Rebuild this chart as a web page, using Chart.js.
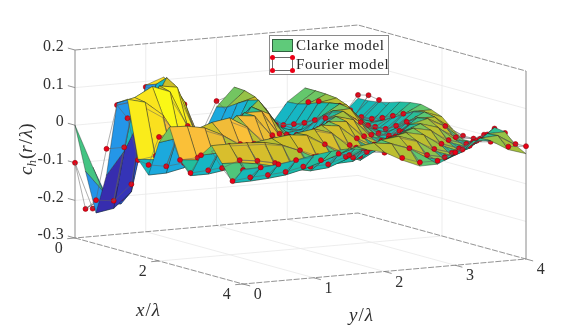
<!DOCTYPE html>
<html>
<head>
<meta charset="utf-8">
<style>
  html, body { margin: 0; padding: 0; background: #fff; }
  canvas { display: block; }
</style>
<script src="https://cdn.jsdelivr.net/npm/chart.js@4"></script>
</head>
<body>
<canvas id="surf" width="581" height="326"></canvas>
<script>
// grid of the two surfaces, in units of lambda
const gridX = [0, .25, .5, .75, 1, 1.25, 1.5, 1.75, 2, 2.25, 2.5, 2.75, 3, 3.25, 3.5, 3.75, 4];
const gridY = [0, .25, .5, .75, 1, 1.25, 1.5, 1.75, 2, 2.25, 2.5, 2.75, 3, 3.25, 3.5, 3.75, 4];

const xTicks = [0, 2, 4];
const yTicks = [0, 1, 2, 3, 4];
const zTicks = [-.3, -.2, -.1, 0, .1, .2];
const zTickLabels = ['-0.3', '-0.2', '-0.1', '0', '0.1', '0.2'];

// rows are x, columns are y
const clarkeZ = [
  [0, -.115, -.218, -.11, .09, .107, -.045, -.079, .015, .064, -.016, -.05, .012, .045, .005, -.039, .005],
  [-.115, -.173, -.21, -.05, .10, .095, -.05, -.078, .022, .062, -.02, -.05, .014, .045, .003, -.038, .006],
  [-.218, -.21, -.17, .04, .125, .057, -.066, -.068, .04, .053, -.028, -.043, .022, .044, -.004, -.035, .01],
  [-.11, -.05, .04, .115, .107, -.018, -.075, -.037, .056, .03, -.041, -.035, .033, .041, -.015, -.03, .017],
  [.09, .10, .125, .107, .008, -.07, -.074, .022, .064, -.002, -.047, -.012, .04, .03, -.026, -.019, .026],
  [.107, .095, .057, -.018, -.07, -.078, -.01, .058, .035, -.034, -.043, .017, .045, .01, -.035, -.004, .032],
  [-.045, -.05, -.066, -.075, -.074, -.01, .054, .053, -.016, -.047, -.015, .038, .04, -.015, -.031, .012, .035],
  [-.079, -.078, -.068, -.037, .022, .058, .053, -.007, -.044, -.035, .025, .045, .011, -.032, -.013, .028, .028],
  [.015, .022, .04, .056, .064, .035, -.016, -.044, -.04, .014, .043, .03, -.021, -.03, .01, .034, .017],
  [.064, .062, .053, .03, -.002, -.034, -.047, -.035, .014, .041, .037, -.012, -.039, -.004, .03, .028, -.008],
  [-.016, -.02, -.028, -.041, -.047, -.043, -.015, .025, .043, .037, -.004, -.035, -.014, .024, .036, .011, -.028],
  [-.05, -.05, -.043, -.035, -.012, .017, .038, .045, .03, -.012, -.035, -.018, .017, .034, .02, -.018, -.027],
  [.012, .014, .022, .033, .04, .045, .04, .011, -.021, -.039, -.014, .017, .034, .024, -.012, -.028, -.005],
  [.045, .045, .044, .041, .03, .01, -.015, -.032, -.03, -.004, .024, .034, .024, -.009, -.028, -.01, .027],
  [.005, .003, -.004, -.015, -.026, -.035, -.031, -.013, .01, .03, .036, .02, -.012, -.028, -.012, .022, .023],
  [-.039, -.038, -.035, -.03, -.019, -.004, .012, .028, .034, .028, .011, -.018, -.028, -.01, .022, .025, -.005],
  [.005, .006, .01, .017, .026, .032, .035, .028, .017, -.008, -.028, -.027, -.005, .027, .023, -.005, -.02]
];

const fourierZ = [
  [-.10, -.226, -.18, -.09, .085, .09, -.04, -.065, .031, .045, -.03, -.06, 0, .03, -.003, -.045, .014],
  [-.215, -.19, -.195, -.04, .09, .08, -.045, -.066, .012, .045, -.03, -.06, .002, .03, -.005, -.045, .021],
  [-.184, -.19, -.15, .03, .105, .05, -.058, -.058, .025, .035, -.035, -.05, .027, .03, -.01, -.025, .016],
  [-.04, -.04, .035, .10, .09, -.012, -.062, -.03, .04, .015, -.018, -.04, .037, .03, -.02, -.022, 0],
  [.084, .09, .105, .092, .012, -.055, -.06, .02, .045, -.006, -.008, -.016, .036, .02, -.03, -.012, .005],
  [.057, .08, .05, -.01, -.055, -.062, -.006, .05, .02, -.024, .003, .016, .04, 0, -.024, .001, .01],
  [-.047, -.04, -.054, -.06, -.06, -.006, .046, .046, -.01, -.036, .018, .034, .036, -.008, -.022, .014, .015],
  [-.052, -.06, -.055, -.03, .02, .05, .046, -.002, -.034, -.026, .031, .04, .012, -.022, -.006, .026, .01],
  [.03, .024, .036, .048, .054, .032, -.01, -.034, -.03, .014, .038, .028, -.014, -.02, .012, .03, 0],
  [.048, .05, .046, .028, .002, -.024, -.036, -.026, .014, .036, .033, -.006, -.028, 0, .028, .026, -.02],
  [-.016, -.014, -.02, -.032, -.038, -.034, -.01, .022, .038, .033, 0, -.026, -.008, .022, .032, .012, -.018],
  [-.043, -.04, -.035, -.028, -.008, .016, .034, .04, .028, -.006, -.026, -.012, .016, .03, .018, -.01, -.018],
  [.012, .018, .024, .03, .036, .04, .036, .012, -.014, -.028, -.008, .016, .03, .022, -.006, -.02, 0],
  [.03, .04, .038, .036, .028, .012, -.008, -.022, -.02, 0, .022, .03, .022, -.004, -.02, -.004, .024],
  [-.007, .01, .004, -.006, -.016, -.024, -.022, -.006, .012, .028, .032, .018, -.006, -.02, -.006, .02, .02],
  [-.034, -.028, -.026, -.022, -.012, .001, .014, .026, .03, .026, .012, -.01, -.02, -.004, .02, .022, -.002],
  [.003, .006, .01, .017, .021, .022, .018, .022, .016, -.002, -.018, -.018, 0, .024, .02, .003, 0]
];

// colour of a face, by height
const colorZ = [-.23, -.19, -.15, -.11, -.07, -.04, -.015, .01, .025, .04, .06, .085, .12];
const colorRGB = [
  [58, 34, 160], [48, 70, 205], [40, 125, 235], [36, 150, 232], [26, 175, 218], [20, 185, 185],
  [35, 190, 155], [90, 200, 115], [165, 192, 60], [205, 190, 40], [250, 188, 60], [250, 215, 35], [250, 248, 22]
];

function faceColor(z) {
  let k = 0;
  while (k < colorZ.length - 2 && z > colorZ[k + 1]) k++;
  let t = (z - colorZ[k]) / (colorZ[k + 1] - colorZ[k]);
  t = Math.max(0, Math.min(1, t));
  const c = colorRGB[k].map((v, n) => Math.round(v + (colorRGB[k + 1][n] - v) * t));
  return `rgb(${c[0]},${c[1]},${c[2]})`;
}

// the view of the box, from the reference
function project(x, y, z) {
  return { x: 75 + 42 * x + 70.75 * y, y: 238 + 11.5 * x - 6.25 * y - 376 * (z + .3) };
}
function depth(x, y, z) {
  return .85 * x - .5 * y + .72 * z;
}

const surfaceSets = [];

function addItem(d, set) {
  surfaceSets.push({ d: d, set: set });
}

for (let i = 0; i < gridX.length - 1; i++) {
  for (let j = 0; j < gridY.length - 1; j++) {
    const corners = [[i, j], [i + 1, j], [i + 1, j + 1], [i, j + 1]];
    let dC = 0, dF = 0;
    corners.forEach(c => {
      dC += depth(gridX[c[0]], gridY[c[1]], clarkeZ[c[0]][c[1]]) / 4;
      dF += depth(gridX[c[0]], gridY[c[1]], fourierZ[c[0]][c[1]]) / 4;
    });
    const loop = corners.concat([corners[0]]);
    addItem(dC, {
      data: loop.map(c => project(gridX[c[0]], gridY[c[1]], clarkeZ[c[0]][c[1]])),
      showLine: true, fill: 'shape', pointRadius: 0, borderWidth: .55,
      backgroundColor: faceColor(clarkeZ[i][j]), borderColor: 'rgba(25,35,30,.7)'
    });
    // wire mesh of the second surface, no fill
    let above = 0;
    corners.forEach(c => { above += fourierZ[c[0]][c[1]] - clarkeZ[c[0]][c[1]]; });
    addItem(dF + (above > 0 ? .12 : -.2), {
      data: loop.map(c => project(gridX[c[0]], gridY[c[1]], fourierZ[c[0]][c[1]])),
      showLine: true, fill: false, pointRadius: 0, borderWidth: .6,
      borderColor: 'rgba(95,95,95,.85)'
    });
  }
}

gridX.forEach((x, i) => {
  gridY.forEach((y, j) => {
    const z = fourierZ[i][j];
    addItem(depth(x, y, z) + (z >= clarkeZ[i][j] ? .22 : -.25), {
      data: [project(x, y, z)],
      showLine: false, pointRadius: 2.5, borderWidth: .6,
      pointBackgroundColor: '#ea0016', pointBorderColor: '#8c0a10'
    });
  });
});

// first in the list is drawn last
surfaceSets.sort((a, b) => b.d - a.d);
const datasets = surfaceSets.map(s => s.set);

function boxLine(points, color, dash, width) {
  datasets.push({
    data: points.map(p => project(p[0], p[1], p[2])),
    showLine: true, fill: false, pointRadius: 0, borderWidth: width || .8,
    borderColor: color, borderDash: dash || []
  });
}

const edgeColor = 'rgba(105,105,105,.9)';
const edgeDash = [6, 1.5];
const gridColor = '#e9e9e9';

// axes edges
boxLine([[0, 0, -.3], [0, 0, .2]], '#8a8a8a', [], 1);
boxLine([[4, 4, -.3], [4, 4, .2]], '#8a8a8a', [], 1);
boxLine([[0, 0, .2], [0, 4, .2], [4, 4, .2]], edgeColor, edgeDash);
boxLine([[0, 0, -.3], [4, 0, -.3], [4, 4, -.3], [0, 4, -.3], [0, 0, -.3]], edgeColor, edgeDash);

// tick marks
zTicks.forEach(z => boxLine([[0, 0, z], [-.17, 0, z]], edgeColor));
xTicks.forEach(x => boxLine([[x, 0, -.3], [x, -.11, -.3]], edgeColor));
yTicks.forEach(y => boxLine([[4, y, -.3], [4.17, y, -.3]], edgeColor));

// grid on the walls and floor
zTicks.slice(1, 5).forEach(z => boxLine([[0, 0, z], [0, 4, z], [4, 4, z]], gridColor));
yTicks.slice(1, 4).forEach(y => {
  boxLine([[0, y, -.3], [0, y, .2]], gridColor);
  boxLine([[0, y, -.3], [4, y, -.3]], gridColor);
});
boxLine([[2, 4, -.3], [2, 4, .2]], gridColor);
boxLine([[2, 0, -.3], [2, 4, -.3]], gridColor);

const roman = '16px "Liberation Serif"';
const italic = 'italic 19px "Liberation Serif"';
const upright = '19px "Liberation Serif"';

// runs of text with their own font, one after the other
function textRun(ctx, x, y, parts) {
  parts.forEach(p => {
    ctx.font = p[1];
    ctx.fillText(p[0], x, y + (p[2] || 0));
    x += ctx.measureText(p[0]).width + (p[3] || 0);
  });
}

const labelsPlugin = {
  id: 'labelsPlugin',
  afterDraw(chart) {
    const ctx = chart.ctx;
    const sx = chart.scales.x, sy = chart.scales.y;
    const at = (x, y, z) => {
      const p = project(x, y, z);
      return { x: sx.getPixelForValue(p.x), y: sy.getPixelForValue(p.y) };
    };
    ctx.save();
    ctx.fillStyle = '#303030';
    ctx.font = roman;
    ctx.letterSpacing = '.3px';
    ctx.textAlign = 'right';
    ctx.textBaseline = 'middle';
    zTicks.forEach((z, k) => {
      const p = at(0, 0, z);
      ctx.fillText(zTickLabels[k], p.x - 11, p.y - 3);
    });
    ctx.textAlign = 'center';
    xTicks.forEach(x => {
      const p = at(x, 0, -.3);
      ctx.fillText(String(x), p.x - 16, p.y + 11);
    });
    yTicks.forEach(y => {
      const p = at(4, y, -.3);
      ctx.fillText(String(y), p.x + 15, p.y + 11);
    });
    ctx.letterSpacing = '0px';

    ctx.textAlign = 'left';
    ctx.textBaseline = 'alphabetic';
    textRun(ctx, 136, 316, [['x', italic, 0, 1], ['/', upright, 0, 1], ['λ', italic]]);
    textRun(ctx, 349, 321, [['y', italic, 0, 1], ['/', upright, 0, 1], ['λ', italic]]);

    ctx.save();
    ctx.translate(32, 175);
    ctx.rotate(-Math.PI / 2);
    textRun(ctx, 0, 0, [
      ['c', italic], ['h', 'italic 13px "Liberation Serif"', 4, 1],
      ['(', upright], ['r', italic, 0, 1],
      ['/', upright, 0, 1], ['λ', italic], [')', upright]
    ]);
    ctx.restore();

    // legend
    ctx.fillStyle = '#fff';
    ctx.strokeStyle = '#8a8a8a';
    ctx.lineWidth = 1;
    ctx.fillRect(269.5, 35.5, 119, 39);
    ctx.strokeRect(269.5, 35.5, 119, 39);
    ctx.fillStyle = '#5fca7a';
    ctx.strokeStyle = '#2f5f3e';
    ctx.fillRect(272.5, 39.5, 20, 12);
    ctx.strokeRect(272.5, 39.5, 20, 12);
    ctx.strokeStyle = '#6a6a6a';
    ctx.strokeRect(272.5, 57.5, 20, 13);
    ctx.fillStyle = '#ea0016';
    [[272.5, 57.5], [292.5, 57.5], [272.5, 70.5], [292.5, 70.5]].forEach(c => {
      ctx.beginPath();
      ctx.arc(c[0], c[1], 2.5, 0, Math.PI * 2);
      ctx.fill();
    });
    ctx.fillStyle = '#262626';
    ctx.font = '15px "Liberation Serif"';
    ctx.letterSpacing = '.6px';
    ctx.fillText('Clarke model', 296, 50);
    ctx.fillText('Fourier model', 296, 69);
    ctx.restore();
  }
};

new Chart(document.getElementById('surf'), {
  type: 'scatter',
  data: { datasets: datasets },
  options: {
    responsive: false,
    animation: false,
    events: [],
    layout: { padding: 0, autoPadding: false },
    plugins: { legend: { display: false }, tooltip: { enabled: false } },
    scales: {
      x: { type: 'linear', min: 0, max: 581, display: false },
      y: { type: 'linear', min: 0, max: 326, reverse: true, display: false }
    }
  },
  plugins: [labelsPlugin]
});
</script>
</body>
</html>
